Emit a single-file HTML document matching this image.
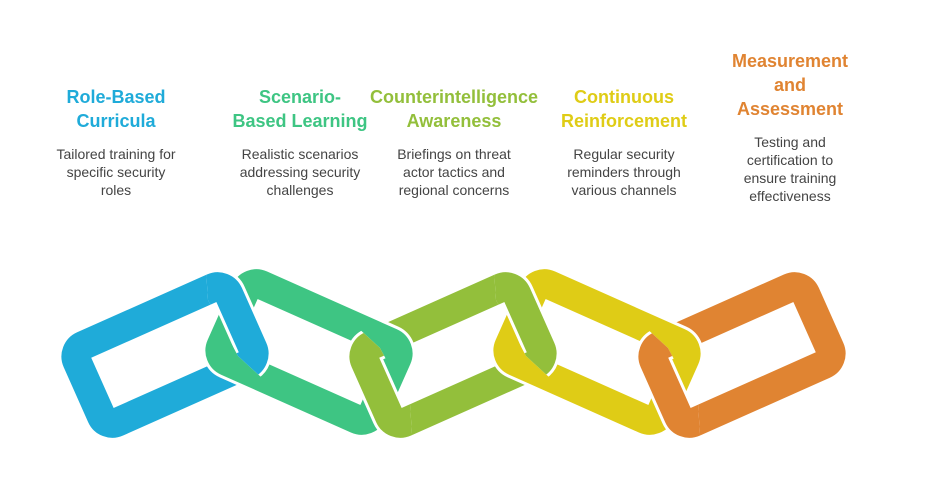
<!DOCTYPE html>
<html><head><meta charset="utf-8"><style>
body{margin:0;width:936px;height:493px;background:#fff;overflow:hidden;font-family:"Liberation Sans",Arial,sans-serif}
.t{position:absolute;text-align:center;width:200px;margin-left:-100px}
.h{font-weight:bold;font-size:18px;line-height:24px}
.d{font-size:14px;line-height:18px;color:#444;margin-top:12px}
</style></head><body>
<svg width="936" height="493" style="position:absolute;left:0;top:0">
<defs>
<g id="L"><rect x="-83" y="-42" width="166" height="84" rx="12" fill="none" stroke="#fff" stroke-width="35"/><rect x="-83" y="-42" width="166" height="84" rx="12" fill="none" stroke-width="29"/></g>
<clipPath id="c1" clipPathUnits="userSpaceOnUse"><polygon points="205,255 235,250 290,370 262,378 238,356 208,300"/></clipPath>
<clipPath id="c2" clipPathUnits="userSpaceOnUse"><polygon points="413,449 383,454 328,334 356,326 380,348 410,404"/></clipPath>
<clipPath id="c3" clipPathUnits="userSpaceOnUse"><polygon points="493,255 523,250 578,370 550,378 526,356 496,300"/></clipPath>
<clipPath id="c4" clipPathUnits="userSpaceOnUse"><polygon points="701,449 671,454 616,334 644,326 668,348 698,404"/></clipPath>
</defs>
<use href="#L" transform="translate(165,355) rotate(-24)" stroke="#1fabd9"/>
<use href="#L" transform="translate(453,355) rotate(-24)" stroke="#93bf3b"/>
<use href="#L" transform="translate(309,352) rotate(24)" stroke="#3ec583"/>
<g clip-path="url(#c1)"><use href="#L" transform="translate(165,355) rotate(-24)" stroke="#1fabd9"/></g>
<g clip-path="url(#c2)"><use href="#L" transform="translate(453,355) rotate(-24)" stroke="#93bf3b"/></g>
<use href="#L" transform="translate(742,355) rotate(-24)" stroke="#e08432"/>
<use href="#L" transform="translate(597,352) rotate(24)" stroke="#dfcc16"/>
<g clip-path="url(#c3)"><use href="#L" transform="translate(453,355) rotate(-24)" stroke="#93bf3b"/></g>
<g clip-path="url(#c4)"><use href="#L" transform="translate(742,355) rotate(-24)" stroke="#e08432"/></g>
</svg>
<div class="t" style="left:116px;top:85px"><div class="h" style="color:#1fabd9">Role-Based<br>Curricula</div><div class="d">Tailored training for<br>specific security<br>roles</div></div>
<div class="t" style="left:300px;top:85px"><div class="h" style="color:#3ec583">Scenario-<br>Based Learning</div><div class="d">Realistic scenarios<br>addressing security<br>challenges</div></div>
<div class="t" style="left:454px;top:85px;width:220px;margin-left:-110px"><div class="h" style="color:#93bf3b">Counterintelligence<br>Awareness</div><div class="d">Briefings on threat<br>actor tactics and<br>regional concerns</div></div>
<div class="t" style="left:624px;top:85px"><div class="h" style="color:#dfcc16">Continuous<br>Reinforcement</div><div class="d">Regular security<br>reminders through<br>various channels</div></div>
<div class="t" style="left:790px;top:49px"><div class="h" style="color:#e08432">Measurement<br>and<br>Assessment</div><div class="d">Testing and<br>certification to<br>ensure training<br>effectiveness</div></div>
</body></html>
